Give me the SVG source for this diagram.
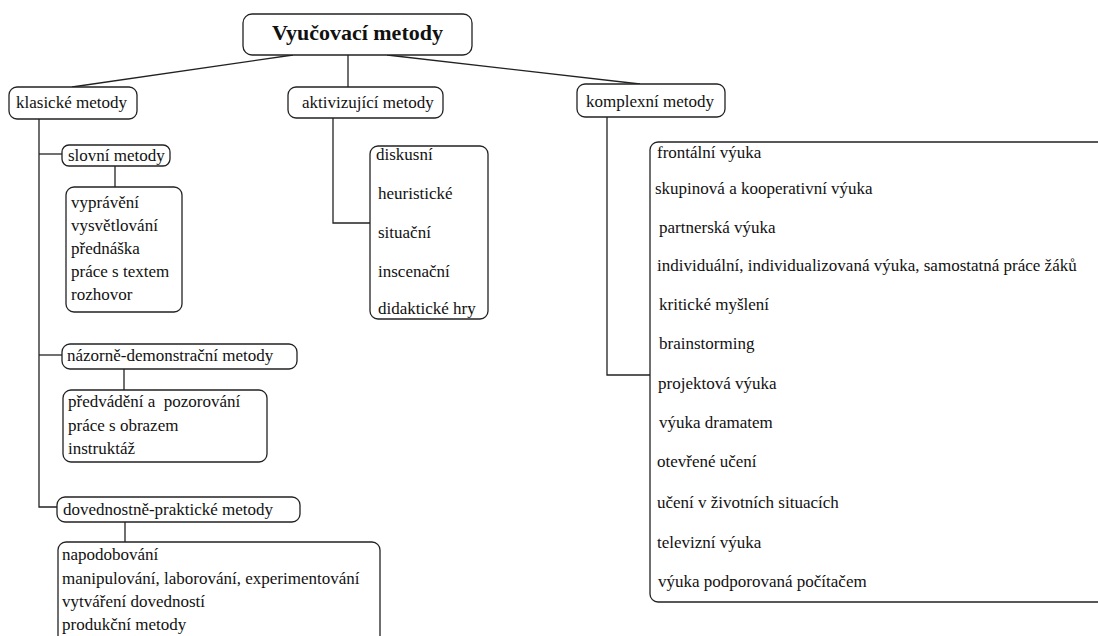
<svg xmlns="http://www.w3.org/2000/svg" width="1098" height="636" viewBox="0 0 1098 636">
  <style>
    .box { fill: #fff; stroke: #222; stroke-width: 1.3; }
    .t { font-family: "Liberation Serif", "Times New Roman", serif; font-size: 17px; fill: #111; }
    .title { font-family: "Liberation Serif", "Times New Roman", serif; font-size: 22px; font-weight: bold; fill: #111; }
    .conn { fill: none; stroke: #222; stroke-width: 1.3; }
  </style>
  <rect width="1098" height="636" fill="#fff"/>

  <g id="connectors">
    <line class="conn" x1="293" y1="55" x2="72" y2="87"/>
    <line class="conn" x1="348" y1="55" x2="348" y2="87"/>
    <line class="conn" x1="387" y1="55" x2="640" y2="84"/>
    <!-- klasické metody trunk -->
    <polyline class="conn" points="39,119 39,507 57,507"/>
    <line class="conn" x1="39" y1="154" x2="62" y2="154"/>
    <line class="conn" x1="39" y1="355" x2="62" y2="355"/>
    <line class="conn" x1="115" y1="166" x2="115" y2="187"/>
    <line class="conn" x1="124" y1="369" x2="124" y2="390"/>
    <line class="conn" x1="125" y1="522" x2="125" y2="542"/>
    <!-- aktivizující metody -->
    <polyline class="conn" points="333,118 333,223 370,223"/>
    <!-- komplexní metody -->
    <polyline class="conn" points="607,117 607,375 650,375"/>
  </g>

  <g id="root">
    <rect class="box" x="243" y="14" width="229" height="41" rx="9"/>
    <text class="title" x="357.5" y="40" text-anchor="middle">Vyučovací metody</text>
  </g>

  <g id="klasicke">
    <rect class="box" x="9" y="87" width="128" height="32" rx="8"/>
    <text class="t" x="16" y="108">klasické metody</text>
  </g>

  <g id="aktivizujici">
    <rect class="box" x="288" y="87" width="155" height="31" rx="8"/>
    <text class="t" x="302" y="108">aktivizující metody</text>
  </g>

  <g id="komplexni">
    <rect class="box" x="577" y="84" width="148" height="33" rx="8"/>
    <text class="t" x="586" y="107">komplexní metody</text>
  </g>

  <g id="slovni">
    <rect class="box" x="62" y="145" width="108" height="21" rx="7"/>
    <text class="t" x="68" y="161">slovní metody</text>
  </g>

  <g id="slovni-list">
    <rect class="box" x="66" y="187" width="116" height="125" rx="8"/>
    <text class="t" x="71" y="208">vyprávění</text>
    <text class="t" x="71" y="231">vysvětlování</text>
    <text class="t" x="71" y="254">přednáška</text>
    <text class="t" x="71" y="277">práce s textem</text>
    <text class="t" x="71" y="300">rozhovor</text>
  </g>

  <g id="nazorne">
    <rect class="box" x="62" y="344" width="235" height="25" rx="8"/>
    <text class="t" x="67" y="361">názorně-demonstrační metody</text>
  </g>

  <g id="nazorne-list">
    <rect class="box" x="63" y="390" width="204" height="72" rx="8"/>
    <text class="t" x="68" y="407" xml:space="preserve">předvádění a  pozorování</text>
    <text class="t" x="68" y="431">práce s obrazem</text>
    <text class="t" x="68" y="454">instruktáž</text>
  </g>

  <g id="dovednostne">
    <rect class="box" x="57" y="497" width="243" height="25" rx="8"/>
    <text class="t" x="63" y="515">dovednostně-praktické metody</text>
  </g>

  <g id="dovednostne-list">
    <rect class="box" x="58" y="542" width="322" height="104" rx="8"/>
    <text class="t" x="62" y="560">napodobování</text>
    <text class="t" x="62" y="584">manipulování, laborování, experimentování</text>
    <text class="t" x="62" y="607">vytváření dovedností</text>
    <text class="t" x="62" y="630">produkční metody</text>
  </g>

  <g id="aktivizujici-list">
    <rect class="box" x="370" y="146" width="118" height="173" rx="8"/>
    <text class="t" x="376" y="160">diskusní</text>
    <text class="t" x="378" y="199">heuristické</text>
    <text class="t" x="378" y="238">situační</text>
    <text class="t" x="378" y="277">inscenační</text>
    <text class="t" x="378" y="314">didaktické hry</text>
  </g>

  <g id="komplexni-list">
    <rect class="box" x="650" y="142" width="470" height="460" rx="8"/>
    <text class="t" x="657" y="158">frontální výuka</text>
    <text class="t" x="655" y="194">skupinová a kooperativní výuka</text>
    <text class="t" x="659" y="233">partnerská výuka</text>
    <text class="t" x="657" y="271">individuální, individualizovaná výuka, samostatná práce žáků</text>
    <text class="t" x="659" y="310">kritické myšlení</text>
    <text class="t" x="659" y="349">brainstorming</text>
    <text class="t" x="658" y="389">projektová výuka</text>
    <text class="t" x="659" y="428">výuka dramatem</text>
    <text class="t" x="657" y="467">otevřené učení</text>
    <text class="t" x="657" y="508">učení v životních situacích</text>
    <text class="t" x="657" y="548">televizní výuka</text>
    <text class="t" x="658" y="587">výuka podporovaná počítačem</text>
  </g>
</svg>
